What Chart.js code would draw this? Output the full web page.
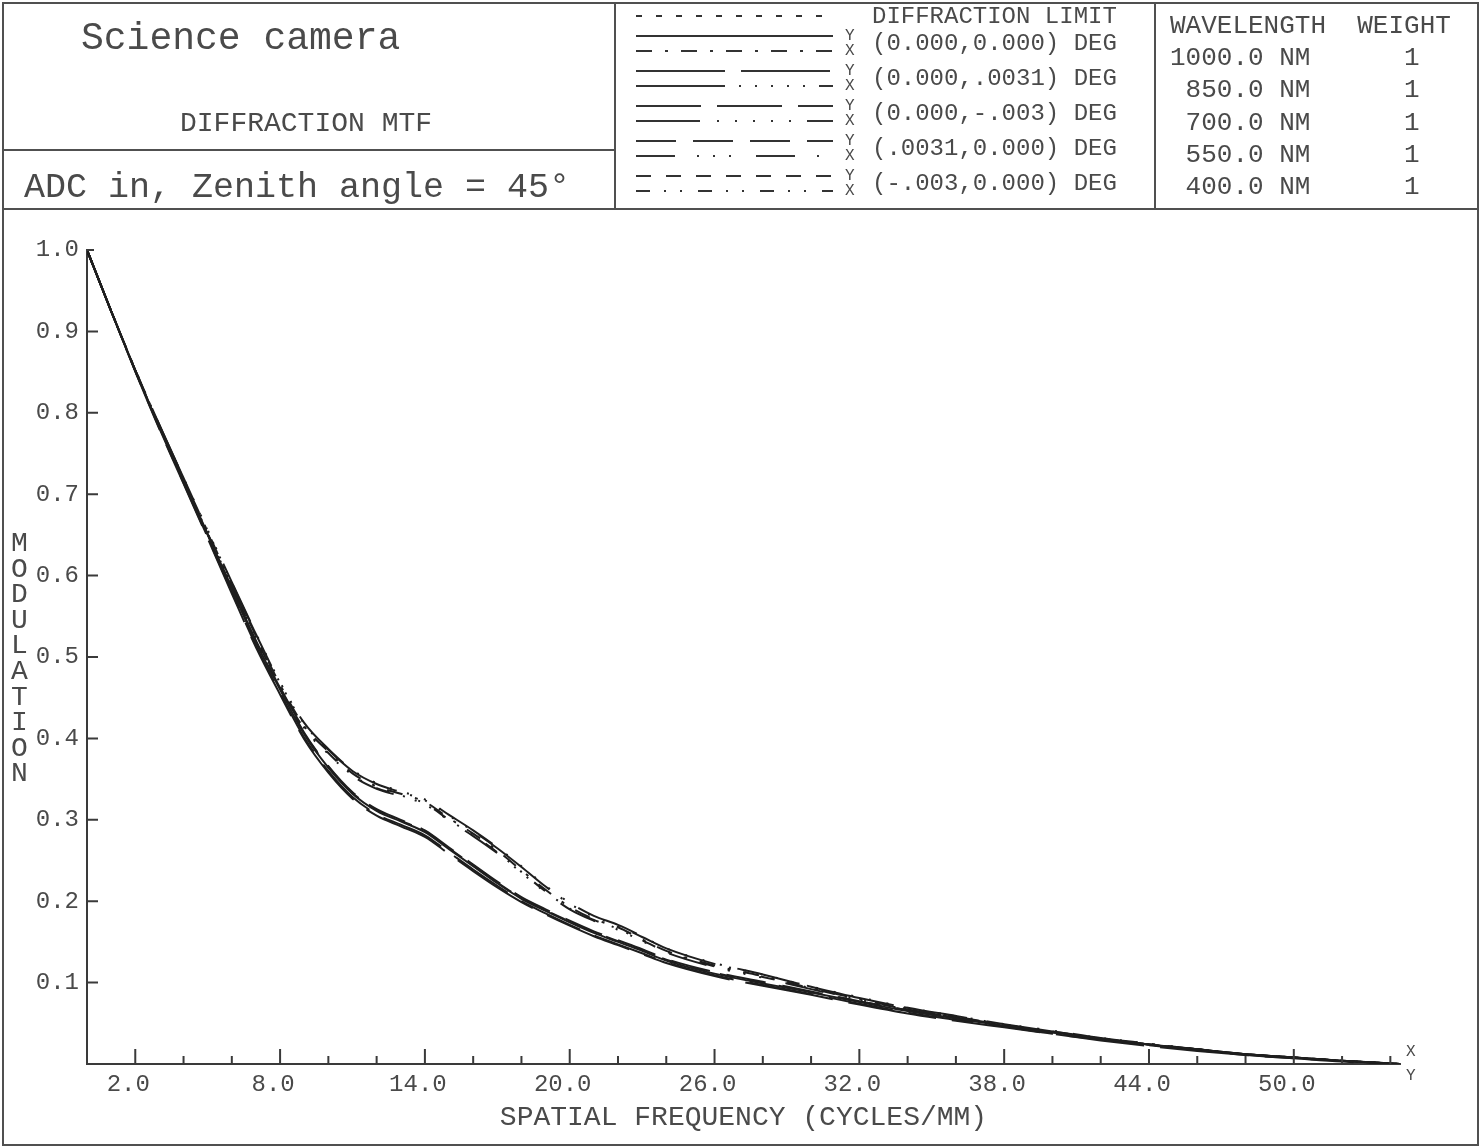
<!DOCTYPE html>
<html>

<head>
  <meta charset="utf-8">
  <title>Science camera - Diffraction MTF</title>
  <script src="https://cdn.jsdelivr.net/npm/chart.js@4.4.0/dist/chart.umd.min.js"></script>
  <style>
    html,
    body {
      margin: 0;
      padding: 0;
      background: #fff;
    }

    #page {
      position: relative;
      width: 1482px;
      height: 1147px;
      overflow: hidden;
      font-family: "Liberation Mono", "DejaVu Sans Mono", monospace;
      color: #4a4a4a;
    }

    #mtf {
      position: absolute;
      left: 0;
      top: 0;
    }

    .rule {
      position: absolute;
      background: #505050;
    }

    .txt {
      position: absolute;
      white-space: pre;
      line-height: 1;
    }
  </style>
</head>

<body>
  <div id="page">
    <canvas id="mtf" width="1482" height="1147"></canvas>

    <!-- frame and header boxes -->
    <div style="position:absolute;left:2px;top:2px;width:1477px;height:1144px;border:2px solid #505050;box-sizing:border-box;"></div>
    <div class="rule" style="left:2px;top:208px;width:1477px;height:2px;"></div>
    <div class="rule" style="left:614px;top:2px;width:2px;height:207px;"></div>
    <div class="rule" style="left:1154px;top:2px;width:2px;height:207px;"></div>
    <div class="rule" style="left:2px;top:149px;width:614px;height:2px;"></div>

    <div class="txt" style="left:81px;top:20px;font-size:38px;">Science camera</div>
    <div class="txt" style="left:180px;top:110px;font-size:28px;">DIFFRACTION MTF</div>
    <div class="txt" style="left:24px;top:171px;font-size:35px;">ADC in, Zenith angle = 45°</div>

    <svg id="legendLines" style="position:absolute;left:636px;top:0;" width="200" height="209"></svg>
    <div id="legendText"></div>
    <div id="waveText"></div>

    <div class="txt" style="left:11px;top:531px;font-size:28px;line-height:25.6px;">M
O
D
U
L
A
T
I
O
N</div>
    <div class="txt" style="left:1406px;top:1044px;font-size:16px;">X</div>
    <div class="txt" style="left:1406px;top:1068px;font-size:16px;">Y</div>
  </div>

  <script>
    // spatial frequency samples (cycles/mm)
    var freq = [0, 1, 2, 3, 4, 5, 6, 7, 8, 9, 10, 11, 12, 13, 14, 15, 16, 17, 18, 19, 20, 21, 22, 23, 24,
      26, 28, 30, 32, 34, 36, 38, 40, 42, 44, 46, 48, 50, 52, 54.4];

    // modulation, field (0.000,0.000)
    var mtfY1 = [1.0, 0.925, 0.852, 0.782, 0.716, 0.650, 0.583, 0.518, 0.460, 0.405, 0.364, 0.332, 0.311, 0.298, 0.285, 0.264, 0.243, 0.222, 0.203, 0.188, 0.174, 0.161, 0.150, 0.139, 0.127,
      0.111, 0.099, 0.088, 0.076, 0.065, 0.056, 0.047, 0.039, 0.031, 0.024, 0.018, 0.012, 0.008, 0.004, 0];
    var mtfX1 = [1.0, 0.925, 0.853, 0.784, 0.719, 0.654, 0.589, 0.526, 0.466, 0.415, 0.384, 0.357, 0.341, 0.332, 0.322, 0.302, 0.283, 0.262, 0.238, 0.214, 0.193, 0.178, 0.168, 0.153, 0.139,
      0.121, 0.108, 0.093, 0.080, 0.068, 0.058, 0.048, 0.040, 0.031, 0.024, 0.018, 0.012, 0.008, 0.004, 0];
    // field (0.000,.0031)
    var mtfY2 = [1.0, 0.925, 0.851, 0.780, 0.713, 0.646, 0.578, 0.512, 0.454, 0.399, 0.358, 0.326, 0.305, 0.292, 0.279, 0.258, 0.237, 0.217, 0.199, 0.184, 0.170, 0.157, 0.146, 0.135, 0.124,
      0.108, 0.096, 0.085, 0.073, 0.062, 0.053, 0.045, 0.037, 0.029, 0.022, 0.016, 0.011, 0.007, 0.003, 0];
    var mtfX2 = [1.0, 0.925, 0.853, 0.785, 0.720, 0.655, 0.591, 0.528, 0.468, 0.418, 0.386, 0.360, 0.344, 0.334, 0.324, 0.305, 0.286, 0.265, 0.242, 0.218, 0.197, 0.181, 0.170, 0.156, 0.142,
      0.123, 0.110, 0.095, 0.081, 0.069, 0.059, 0.049, 0.040, 0.032, 0.025, 0.018, 0.012, 0.008, 0.004, 0];
    // field (0.000,-.003)
    var mtfY3 = [1.0, 0.925, 0.851, 0.781, 0.714, 0.647, 0.580, 0.514, 0.456, 0.401, 0.360, 0.328, 0.307, 0.294, 0.281, 0.260, 0.239, 0.219, 0.200, 0.185, 0.171, 0.158, 0.147, 0.136, 0.125,
      0.109, 0.097, 0.086, 0.074, 0.063, 0.054, 0.046, 0.037, 0.030, 0.023, 0.017, 0.011, 0.007, 0.004, 0];
    var mtfX3 = [1.0, 0.925, 0.853, 0.785, 0.720, 0.656, 0.592, 0.529, 0.469, 0.419, 0.387, 0.361, 0.345, 0.335, 0.325, 0.306, 0.287, 0.266, 0.243, 0.219, 0.198, 0.182, 0.171, 0.157, 0.142,
      0.124, 0.110, 0.095, 0.082, 0.069, 0.059, 0.049, 0.041, 0.032, 0.025, 0.018, 0.012, 0.008, 0.004, 0];
    // field (.0031,0.000)
    var mtfY4 = [1.0, 0.925, 0.852, 0.783, 0.717, 0.651, 0.585, 0.520, 0.462, 0.407, 0.366, 0.334, 0.313, 0.300, 0.287, 0.266, 0.245, 0.224, 0.205, 0.190, 0.176, 0.163, 0.152, 0.141, 0.129,
      0.113, 0.101, 0.089, 0.077, 0.066, 0.057, 0.048, 0.039, 0.031, 0.024, 0.018, 0.012, 0.008, 0.004, 0];
    var mtfX4 = [1.0, 0.925, 0.852, 0.783, 0.717, 0.652, 0.587, 0.523, 0.463, 0.412, 0.381, 0.354, 0.338, 0.329, 0.319, 0.299, 0.280, 0.259, 0.235, 0.211, 0.190, 0.176, 0.165, 0.151, 0.137,
      0.119, 0.106, 0.092, 0.079, 0.067, 0.057, 0.047, 0.039, 0.031, 0.024, 0.017, 0.012, 0.008, 0.004, 0];
    // field (-.003,0.000)
    var mtfY5 = [1.0, 0.925, 0.852, 0.783, 0.717, 0.651, 0.584, 0.519, 0.461, 0.406, 0.365, 0.333, 0.312, 0.299, 0.286, 0.265, 0.244, 0.223, 0.204, 0.189, 0.175, 0.162, 0.151, 0.140, 0.128,
      0.112, 0.100, 0.088, 0.077, 0.066, 0.056, 0.047, 0.039, 0.031, 0.024, 0.018, 0.012, 0.008, 0.004, 0];
    var mtfX5 = [1.0, 0.925, 0.852, 0.783, 0.717, 0.652, 0.587, 0.523, 0.464, 0.413, 0.382, 0.355, 0.339, 0.330, 0.320, 0.300, 0.281, 0.260, 0.236, 0.212, 0.191, 0.177, 0.166, 0.152, 0.138,
      0.120, 0.107, 0.093, 0.079, 0.067, 0.057, 0.048, 0.039, 0.031, 0.024, 0.018, 0.012, 0.008, 0.004, 0];

    var fieldLabels = ['(0.000,0.000) DEG', '(0.000,.0031) DEG', '(0.000,-.003) DEG', '(.0031,0.000) DEG', '(-.003,0.000) DEG'];
    var wavelengths = ['1000.0', '850.0', '700.0', '550.0', '400.0'];
    var weights = [1, 1, 1, 1, 1];
    var xTickValues = [2, 8, 14, 20, 26, 32, 38, 44, 50];
    var xMinorValues = [4, 6, 10, 12, 16, 18, 22, 24, 28, 30, 34, 36, 40, 42, 46, 48, 52, 54];
    var yTickValues = [0.1, 0.2, 0.3, 0.4, 0.5, 0.6, 0.7, 0.8, 0.9, 1.0];

    // line patterns, Y (tangential) then X (sagittal) for each field
    var diffDash = [6, 14];
    var yDashes = [[], [89, 16], [65, 16], [40, 17], [15, 15]];
    var xDashes = [[16, 13, 3, 13], [89, 14, 2, 14, 2, 14, 2, 14, 2, 14, 2, 14], [64, 17, 2, 16, 2, 16, 2, 16, 2, 16, 2, 16],
      [39, 22, 2, 14, 2, 14, 2, 25], [14, 14, 2, 14, 2, 16]];

    var ySeries = [mtfY1, mtfY2, mtfY3, mtfY4, mtfY5];
    var xSeries = [mtfX1, mtfX2, mtfX3, mtfX4, mtfX5];
    var ink = '#1e1e1e';
    var textGrey = '#4a4a4a';

    function pts(vals) {
      return vals.map(function(v, i) { return { x: freq[i], y: v } });
    }

    var datasets = [];
    for (var k = 0; k < 5; k++) {
      datasets.push({ label: 'Y ' + fieldLabels[k], data: pts(ySeries[k]), borderDash: yDashes[k] });
      datasets.push({ label: 'X ' + fieldLabels[k], data: pts(xSeries[k]), borderDash: xDashes[k] });
    }
    datasets.forEach(function(d) {
      d.borderColor = ink;
      d.borderWidth = 2;
      d.pointRadius = 0;
      d.fill = false;
      d.cubicInterpolationMode = 'monotone';
    });

    // header legend: sample lines + labels
    var svg = document.getElementById('legendLines');
    function sample(y, dash) {
      var l = document.createElementNS('http://www.w3.org/2000/svg', 'line');
      l.setAttribute('x1', 0); l.setAttribute('x2', 197);
      l.setAttribute('y1', y); l.setAttribute('y2', y);
      l.setAttribute('stroke', '#333');
      l.setAttribute('stroke-width', 2);
      if (dash.length) l.setAttribute('stroke-dasharray', dash.join(' '));
      svg.appendChild(l);
    }
    sample(16, diffDash);
    var legendHtml = '<div class="txt" style="left:872px;top:5px;font-size:24px;">DIFFRACTION LIMIT</div>';
    for (var r = 0; r < 5; r++) {
      sample(36 + 35 * r, yDashes[r]);
      sample(51 + 35 * r, xDashes[r]);
      legendHtml += '<div class="txt" style="left:845px;top:' + (28 + 35 * r) + 'px;font-size:16px;">Y</div>';
      legendHtml += '<div class="txt" style="left:845px;top:' + (43 + 35 * r) + 'px;font-size:16px;">X</div>';
      legendHtml += '<div class="txt" style="left:872px;top:' + (32 + 35 * r) + 'px;font-size:24px;">' + fieldLabels[r] + '</div>';
    }
    document.getElementById('legendText').innerHTML = legendHtml;

    var waveHtml = '<div class="txt" style="left:1170px;top:13px;font-size:26px;">WAVELENGTH  WEIGHT</div>';
    for (var w = 0; w < wavelengths.length; w++) {
      var line = (wavelengths[w] + ' NM').padStart(9, ' ') + '      ' + weights[w];
      waveHtml += '<div class="txt" style="left:1170px;top:' + (45 + 32.3 * w) + 'px;font-size:26px;">' + line + '</div>';
    }
    document.getElementById('waveText').innerHTML = waveHtml;

    // inward tick marks, drawn on the library's scales
    var inwardTicks = {
      id: 'inwardTicks',
      afterDraw: function(chart) {
        var ctx = chart.ctx, xs = chart.scales.x, ys = chart.scales.y;
        var bottom = ys.getPixelForValue(0), left = xs.getPixelForValue(0);
        ctx.save();
        ctx.strokeStyle = '#3a3a3a';
        ctx.lineWidth = 2;
        ctx.beginPath();
        xTickValues.forEach(function(v) {
          var px = xs.getPixelForValue(v);
          ctx.moveTo(px, bottom); ctx.lineTo(px, bottom - 15);
        });
        xMinorValues.forEach(function(v) {
          var px = xs.getPixelForValue(v);
          ctx.moveTo(px, bottom); ctx.lineTo(px, bottom - 8);
        });
        yTickValues.forEach(function(v) {
          var py = ys.getPixelForValue(v);
          ctx.moveTo(left, py); ctx.lineTo(left + (v === 1.0 ? 7 : 11), py);
        });
        ctx.stroke();
        ctx.restore();
      }
    };

    var options = {
      type: 'line',
      data: { datasets: datasets },
      plugins: [inwardTicks],
      options: {
        responsive: false,
        animation: false,
        events: [],
        layout: { padding: { left: 0, top: 250, right: 82, bottom: 0 } },
        plugins: { legend: { display: false }, tooltip: { enabled: false } },
        scales: {
          x: {
            type: 'linear',
            min: 0,
            max: 54.4,
            afterFit: function(s) { s.height = 83 },
            afterBuildTicks: function(s) { s.ticks = xTickValues.map(function(v) { return { value: v } }) },
            grid: { display: false, drawTicks: false },
            border: { display: true, color: '#3a3a3a', width: 2 },
            ticks: {
              autoSkip: false,
              maxRotation: 0,
              padding: 6,
              labelOffset: -7,
              color: textGrey,
              font: { family: 'Liberation Mono', size: 24 },
              callback: function(v) { return Number(v).toFixed(1) }
            },
            title: {
              display: true,
              text: 'SPATIAL FREQUENCY (CYCLES/MM)',
              color: textGrey,
              font: { family: 'Liberation Mono', size: 28 },
              padding: { top: 0, bottom: 13 }
            }
          },
          y: {
            type: 'linear',
            min: 0,
            max: 1.0,
            afterFit: function(s) { s.width = 87 },
            afterBuildTicks: function(s) { s.ticks = yTickValues.map(function(v) { return { value: v } }) },
            grid: { display: false, drawTicks: false },
            border: { display: true, color: '#3a3a3a', width: 2 },
            ticks: {
              padding: 8,
              color: textGrey,
              font: { family: 'Liberation Mono', size: 24 },
              callback: function(v) { return Number(v).toFixed(1) }
            }
          }
        }
      }
    };

    var ctx = document.getElementById('mtf').getContext('2d');
    window.mtfChart = new Chart(ctx, options);
  </script>
</body>

</html>
